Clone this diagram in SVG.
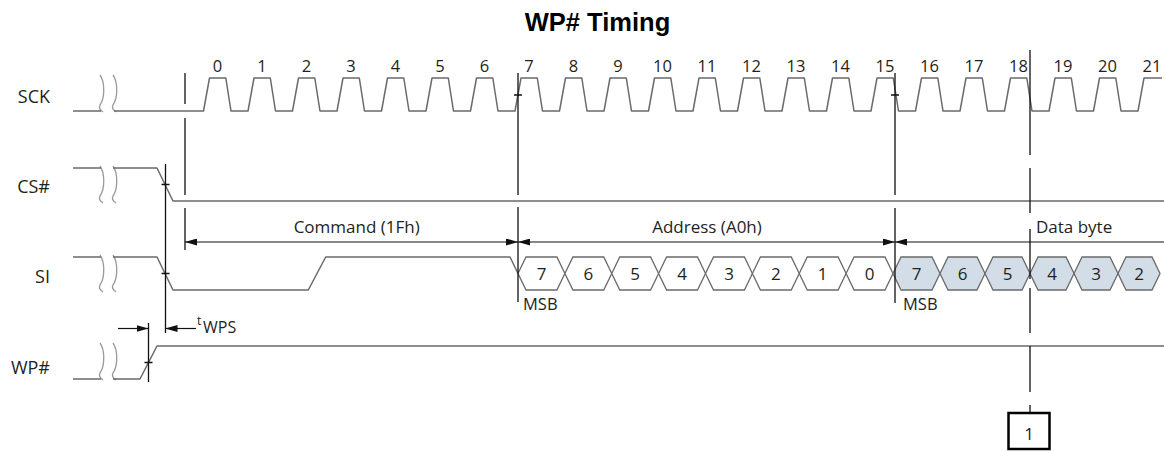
<svg xmlns="http://www.w3.org/2000/svg" xmlns:xlink="http://www.w3.org/1999/xlink" width="1164" height="451" viewBox="0 0 1164 451">
<defs>
<style>
.sig{fill:none;stroke:#6a6a6a;stroke-width:1.5;stroke-linejoin:round}
.brk{fill:none;stroke:#9a9a9a;stroke-width:1.3}
.ref{fill:none;stroke:#111;stroke-width:1.3}
.dim{fill:none;stroke:#111;stroke-width:1.2}
.hexw{fill:#fff;stroke:#6a6a6a;stroke-width:1.3}
.hexd{fill:#d2dde7;stroke:#6a6a6a;stroke-width:1.3}
.lbl{font-family:"Open Sans","Noto Sans","DejaVu Sans",sans-serif;fill:#231f20}
.sl{font-size:18px;text-anchor:end}
.num{font-size:16.5px;text-anchor:middle}
.dl{font-size:17px}
.hx{font-size:17px;text-anchor:middle}
.title{font-family:"Liberation Sans",Arial,sans-serif;font-weight:bold;font-size:25.5px;text-anchor:middle;fill:#000}
</style>
<marker id="ah" viewBox="0 0 12 7" refX="12" refY="3.5" markerWidth="12" markerHeight="7" markerUnits="userSpaceOnUse" orient="auto-start-reverse">
<path d="M0,0 L12,3.5 L0,7 z" fill="#111"/>
</marker>
<path id="bk" d="M0,0 C5,7 5,23 0,30 C-1,32 0,35 3,37"/>
</defs>
<rect width="1164" height="451" fill="#fff"/>
<text class="title" x="597.5" y="31">WP# Timing</text>

<g id="sck">
<text class="lbl sl" x="50" y="103">SCK</text>
<use href="#bk" xlink:href="#bk" class="brk" transform="translate(100,75)"/>
<use href="#bk" xlink:href="#bk" class="brk" transform="translate(113,75)"/>
<path class="sig" d="M73,111 H101 M114,111 H203.5 l6,-33 h16.3 l5.2,33 h17 l6,-33 h16.3 l5.2,33 h17 l6,-33 h16.3 l5.2,33 h17 l6,-33 h16.3 l5.2,33 h17 l6,-33 h16.3 l5.2,33 h17 l6,-33 h16.3 l5.2,33 h17 l6,-33 h16.3 l5.2,33 h17 l6,-33 h16.3 l5.2,33 h17 l6,-33 h16.3 l5.2,33 h17 l6,-33 h16.3 l5.2,33 h17 l6,-33 h16.3 l5.2,33 h17 l6,-33 h16.3 l5.2,33 h17 l6,-33 h16.3 l5.2,33 h17 l6,-33 h16.3 l5.2,33 h17 l6,-33 h16.3 l5.2,33 h17 l6,-33 h16.3 l5.2,33 h17 l6,-33 h16.3 l5.2,33 h17 l6,-33 h16.3 l5.2,33 h17 l6,-33 h16.3 l5.2,33 h17 l6,-33 h16.3 l5.2,33 h17 l6,-33 h16.3 l5.2,33 h17 l6,-33 H1162"/>
<g class="lbl num">
<text x="217.5" y="72">0</text><text x="262" y="72">1</text><text x="306.5" y="72">2</text><text x="351" y="72">3</text><text x="395.5" y="72">4</text><text x="440" y="72">5</text><text x="484.5" y="72">6</text><text x="529" y="72">7</text><text x="573.5" y="72">8</text><text x="618" y="72">9</text><text x="662.5" y="72">10</text><text x="707" y="72">11</text><text x="751.5" y="72">12</text><text x="796" y="72">13</text><text x="840.5" y="72">14</text><text x="885" y="72">15</text><text x="929.5" y="72">16</text><text x="974" y="72">17</text><text x="1018.5" y="72">18</text><text x="1063" y="72">19</text><text x="1107.5" y="72">20</text><text x="1152" y="72">21</text>
</g>
</g>

<g id="cs">
<text class="lbl sl" x="50" y="193">CS#</text>
<use href="#bk" xlink:href="#bk" class="brk" transform="translate(100,166)"/>
<use href="#bk" xlink:href="#bk" class="brk" transform="translate(113,166)"/>
<path class="sig" d="M73,168 H101 M113,168 H157 L173,201 H1164"/>
</g>

<g id="si">
<text class="lbl sl" x="50" y="283">SI</text>
<use href="#bk" xlink:href="#bk" class="brk" transform="translate(100,255)"/>
<use href="#bk" xlink:href="#bk" class="brk" transform="translate(113,255)"/>
<path class="sig" d="M73,257 H101 M113,257 H157 L173,290 H308.3 L325.7,257 H510 L518,273.5"/>
<g id="si-address">
<polygon class="hexw" points="518,273.5 526,257 556.9,257 564.9,273.5 556.9,290 526,290"/>
<polygon class="hexw" points="564.9,273.5 572.9,257 603.75,257 611.75,273.5 603.75,290 572.9,290"/>
<polygon class="hexw" points="611.75,273.5 619.75,257 650.6,257 658.6,273.5 650.6,290 619.75,290"/>
<polygon class="hexw" points="658.6,273.5 666.6,257 697.5,257 705.5,273.5 697.5,290 666.6,290"/>
<polygon class="hexw" points="705.5,273.5 713.5,257 744.4,257 752.4,273.5 744.4,290 713.5,290"/>
<polygon class="hexw" points="752.4,273.5 760.4,257 791.25,257 799.25,273.5 791.25,290 760.4,290"/>
<polygon class="hexw" points="799.25,273.5 807.25,257 838.1,257 846.1,273.5 838.1,290 807.25,290"/>
<polygon class="hexw" points="846.1,273.5 854.1,257 885,257 893,273.5 885,290 854.1,290"/>
<g class="lbl hx">
<text x="541.5" y="280">7</text><text x="588.3" y="280">6</text><text x="635.2" y="280">5</text><text x="682" y="280">4</text><text x="729" y="280">3</text><text x="775.8" y="280">2</text><text x="822.7" y="280">1</text><text x="869.5" y="280">0</text>
</g>
</g>
<g id="si-data">
<polygon class="hexd" points="893,273.5 901,257 932,257 940,273.5 932,290 901,290"/>
<polygon class="hexd" points="940,273.5 948,257 977,257 985,273.5 977,290 948,290"/>
<polygon class="hexd" points="985,273.5 993,257 1022,257 1030,273.5 1022,290 993,290"/>
<polygon class="hexd" points="1030,273.5 1038,257 1066,257 1074,273.5 1066,290 1038,290"/>
<polygon class="hexd" points="1074,273.5 1082,257 1110,257 1118,273.5 1110,290 1082,290"/>
<polygon class="hexd" points="1118,273.5 1126,257 1152,257 1160,273.5 1152,290 1126,290"/>
<g class="lbl hx">
<text x="916.5" y="280">7</text><text x="962.5" y="280">6</text><text x="1007.5" y="280">5</text><text x="1052" y="280">4</text><text x="1096" y="280">3</text><text x="1139" y="280">2</text>
</g>
</g>
<text class="lbl" x="523" y="310" font-size="16.5">MSB</text>
<text class="lbl" x="903" y="310" font-size="16.5">MSB</text>
</g>

<g id="wp">
<text class="lbl sl" x="50" y="374">WP#</text>
<use href="#bk" xlink:href="#bk" class="brk" transform="translate(100,343)"/>
<use href="#bk" xlink:href="#bk" class="brk" transform="translate(113,343)"/>
<path class="sig" d="M73,379 H101 M113,379 H140 L157,346 H1164"/>
</g>

<g id="connectors">
<path class="ref" d="M185,73 V104 M185,118 V195 M185,208 V250"/>
<path class="ref" d="M518,73 V195 M518,207 V302 M514,95 H522"/>
<path class="ref" d="M895,73 V195 M895,208 V303 M891,95 H899"/>
<path class="ref" d="M165.5,164 V333 M161.5,184.5 H169.5 M161.5,273.5 H169.5"/>
<path class="ref" d="M148.5,323 V382 M144.5,362.5 H152.5"/>
<path class="ref" d="M1030,50 V155 M1030,168 V213 M1030,229 V279 M1030,288 V333 M1030,346 V392 M1030,405 V413"/>
<line class="dim" x1="185" y1="242" x2="518" y2="242" marker-start="url(#ah)" marker-end="url(#ah)"/>
<line class="dim" x1="518" y1="242" x2="895" y2="242" marker-start="url(#ah)" marker-end="url(#ah)"/>
<line class="dim" x1="895" y1="242" x2="1164" y2="242" marker-start="url(#ah)"/>
<line class="dim" x1="118" y1="328.5" x2="148.5" y2="328.5" marker-end="url(#ah)"/>
<line class="dim" x1="196" y1="328.5" x2="165.5" y2="328.5" marker-end="url(#ah)"/>
</g>

<g id="labels">
<text class="lbl dl" x="356.7" y="233" text-anchor="middle">Command (1Fh)</text>
<text class="lbl dl" x="707" y="233" text-anchor="middle">Address (A0h)</text>
<text class="lbl dl" x="1036" y="233">Data byte</text>
<text class="lbl" x="197" y="325" font-size="12">t</text>
<text class="lbl" x="203" y="333" font-size="16">WPS</text>
</g>

<g id="note1">
<rect x="1008.5" y="413" width="41" height="36" fill="#fff" stroke="#000" stroke-width="2.5"/>
<text class="lbl" x="1029" y="440" font-size="17" text-anchor="middle">1</text>
</g>
</svg>
